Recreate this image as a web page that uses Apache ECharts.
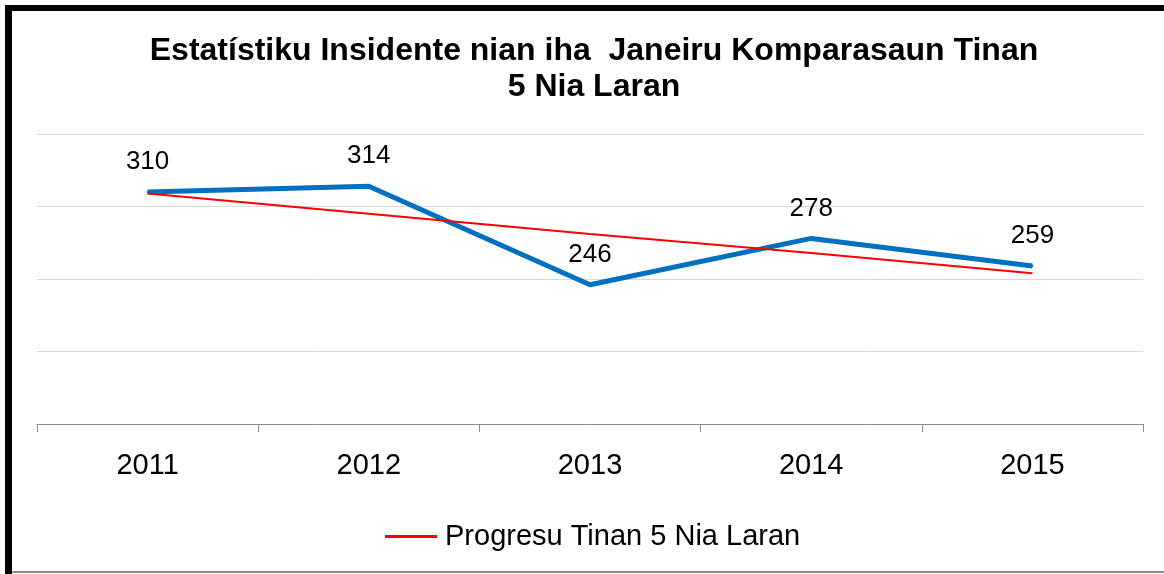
<!DOCTYPE html>
<html>
<head>
<meta charset="utf-8">
<script src="https://cdn.jsdelivr.net/npm/echarts@6/dist/echarts.min.js"></script>
<style>
  html, body { margin: 0; padding: 0; background: #fff; }
  #chart { width: 1164px; height: 574px; }
</style>
</head>
<body>
<div id="chart"></div>
<script>
// dados
const anos = ['2011', '2012', '2013', '2014', '2015'];
const insidentes = [310, 314, 246, 278, 259];
// linha de tendência
const progresu = [309, 295, 281, 268, 254];
const yTicks = [150, 200, 250, 300, 350];

const chart = echarts.init(document.getElementById('chart'));

const option = {
  backgroundColor: '#ffffff',
  animation: false,
  textStyle: { fontFamily: '"Liberation Sans", Arial, sans-serif' },
  title: {
    text: 'Estatístiku Insidente nian iha  Janeiru Komparasaun Tinan\n5 Nia Laran',
    left: 589,
    textAlign: 'center',
    top: 28,
    textStyle: {
      fontSize: 32,
      fontWeight: 'bold',
      color: '#000',
      lineHeight: 36,
      fontFamily: '"Liberation Sans", Arial, sans-serif'
    }
  },
  legend: {
    data: ['Progresu Tinan 5 Nia Laran'],
    left: 380,
    top: 517,
    itemWidth: 52,
    itemHeight: 3,
    itemGap: 10,
    textStyle: { fontSize: 29, color: '#000', padding: [0, 0, 0, 3] },
    icon: 'rect'
  },
  grid: { left: 37, right: 21, top: 134, bottom: 150 },
  xAxis: {
    type: 'category',
    data: anos,
    boundaryGap: true,
    axisLine: { lineStyle: { color: '#8c8c8c', width: 1 } },
    axisTick: { show: true, length: 8, lineStyle: { color: '#8c8c8c' } },
    axisLabel: { fontSize: 29, color: '#000', margin: 27 }
  },
  yAxis: {
    type: 'value',
    min: yTicks[0],
    max: yTicks[yTicks.length - 1],
    interval: 50,
    axisLabel: { show: false },
    axisLine: { show: false },
    axisTick: { show: false },
    splitLine: { lineStyle: { color: '#d9d9d9', width: 1 } }
  },
  series: [
    {
      name: 'Insidente',
      type: 'line',
      data: insidentes,
      symbol: 'circle',
      symbolSize: 2,
      showSymbol: true,
      lineStyle: { color: '#0070c0', width: 5 },
      itemStyle: { color: '#0070c0' },
      label: {
        show: true,
        position: 'top',
        distance: 16,
        fontSize: 26,
        color: '#000'
      },
      z: 2
    },
    {
      name: 'Progresu Tinan 5 Nia Laran',
      type: 'line',
      data: progresu,
      symbol: 'none',
      lineStyle: { color: '#ff0000', width: 2 },
      itemStyle: { color: '#ff0000' },
      z: 3
    }
  ],
  graphic: [
    // moldura preta (topo e esquerda) e linha cinza em baixo
    { type: 'rect', shape: { x: 5, y: 5, width: 1159, height: 6 }, style: { fill: '#000' } },
    { type: 'rect', shape: { x: 5, y: 5, width: 7, height: 569 }, style: { fill: '#000' } },
    { type: 'rect', shape: { x: 12, y: 571, width: 1152, height: 2 }, style: { fill: '#8c8c8c' } }
  ]
};

chart.setOption(option);
</script>
</body>
</html>
